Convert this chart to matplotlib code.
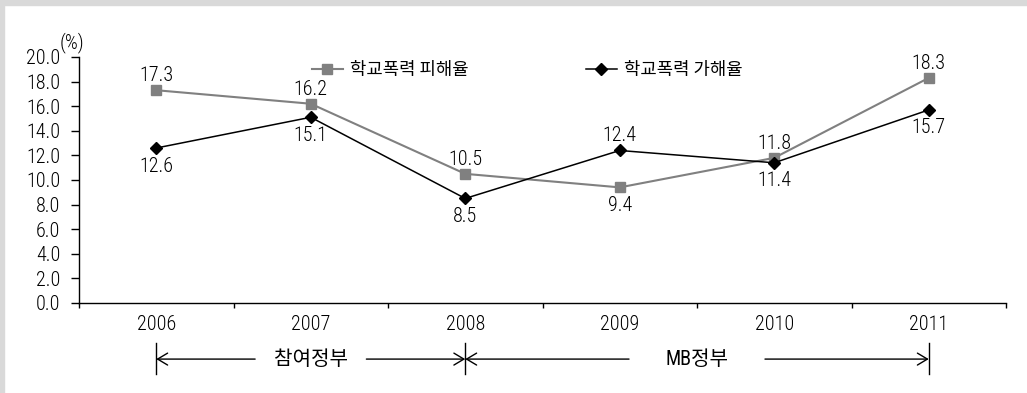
import matplotlib.pyplot as plt
import matplotlib.patches as mpatches
import matplotlib.transforms as mtransforms
from matplotlib import font_manager

years = ['2006', '2007', '2008', '2009', '2010', '2011']
victim_rate = [17.3, 16.2, 10.5, 9.4, 11.8, 18.3]
offender_rate = [12.6, 15.1, 8.5, 12.4, 11.4, 15.7]

# which side of the marker each value label goes: +1 above, -1 below
victim_side = [1, 1, 1, -1, 1, 1]
offender_side = [-1, -1, -1, 1, -1, -1]

periods = ['참여정부', 'MB정부']
period_start = [0, 2]
period_end = [2, 5]
period_gap = [0.36, 0.44]

installed = {f.name for f in font_manager.fontManager.ttflist}
narrow = next((n for n in ['Liberation Sans Narrow', 'Roboto Condensed', 'Liberation Sans']
               if n in installed), 'DejaVu Sans')
num_font = [narrow, 'Noto Sans CJK KR', 'DejaVu Sans']
kor_font = ['Noto Sans CJK KR', 'DejaVu Sans']
plt.rcParams['font.family'] = num_font
plt.rcParams['font.weight'] = 'light'
sz = 14.5 if 'Narrow' in narrow or 'Condensed' in narrow else 12

fig = plt.figure(figsize=(10.27, 3.93), dpi=100)
fig.patches.append(mpatches.Rectangle((0, 1 - 5 / 393), 1, 5 / 393, transform=fig.transFigure,
                                      color='#d9d9d9', zorder=0))
fig.patches.append(mpatches.Rectangle((0, 0), 4 / 1027, 1, transform=fig.transFigure,
                                      color='#d9d9d9', zorder=0))

ax = fig.add_axes([79 / 1027, 1 - 303 / 393, 927 / 1027, 246 / 393])
x = list(range(len(years)))

ax.plot(x, victim_rate, color='#808080', lw=1.5, marker='s', ms=6.5,
        label='학교폭력 피해율', zorder=3)
ax.plot(x, offender_rate, color='black', lw=1.1, marker='D', ms=6.5,
        label='학교폭력 가해율', zorder=4)

for xi, v, s in zip(x, victim_rate, victim_side):
    ax.annotate(f'{v:.1f}', (xi, v), xytext=(0, 10.5 if s > 0 else -13),
                textcoords='offset points', ha='center', va='center', fontsize=sz)
for xi, v, s in zip(x, offender_rate, offender_side):
    ax.annotate(f'{v:.1f}', (xi, v), xytext=(0, 10.5 if s > 0 else -13),
                textcoords='offset points', ha='center', va='center', fontsize=sz)

ax.set_xlim(-0.5, len(years) - 0.5)
ax.set_ylim(0, 20)
ax.set_yticks([i * 2 for i in range(11)])
ax.set_yticklabels([f'{i * 2:.1f}' for i in range(11)])
ax.set_xticks(x)
ax.set_xticklabels(years)
ax.set_xticks([i - 0.5 for i in range(len(years) + 1)], minor=True)
ax.tick_params(axis='x', which='major', length=0, pad=9, labelsize=sz)
ax.tick_params(axis='x', which='minor', length=3.5, width=1.0, direction='out')
ax.tick_params(axis='y', length=5.5, width=1.0, direction='out', pad=8, labelsize=sz)
for side in ['top', 'right']:
    ax.spines[side].set_visible(False)
for side in ['left', 'bottom']:
    ax.spines[side].set_linewidth(1.0)

ax.text(-0.0076, 1.06, '(%)', transform=ax.transAxes, ha='center', va='center',
        fontsize=sz)

leg = ax.legend(loc='center left', bbox_to_anchor=(0.251, 0.947), ncol=2, frameon=False,
                borderpad=0, borderaxespad=0, handlelength=1.75, handletextpad=0.4,
                columnspacing=6.6, prop={'family': kor_font, 'size': 12.8})

# government periods below the axis
trans = mtransforms.blended_transform_factory(ax.transData, ax.transAxes)
y_arrow = -0.228
arrow = dict(arrowstyle='->, head_length=0.72, head_width=0.43', lw=1.0, color='black',
             shrinkA=0, shrinkB=0, mutation_scale=10)
for name, a, b, g in zip(periods, period_start, period_end, period_gap):
    mid = (a + b) / 2
    ax.annotate('', xy=(a, y_arrow), xytext=(mid - g, y_arrow), xycoords=trans,
                textcoords=trans, arrowprops=arrow, annotation_clip=False)
    ax.annotate('', xy=(b, y_arrow), xytext=(mid + g, y_arrow), xycoords=trans,
                textcoords=trans, arrowprops=arrow, annotation_clip=False)
    ax.text(mid, y_arrow, name, transform=trans, ha='center', va='center',
            fontsize=sz, family=num_font, weight='normal')
for xb in sorted(set(period_start + period_end)):
    ax.plot([xb, xb], [-0.163, -0.289], transform=trans, color='black', lw=1.0, clip_on=False)

fig.savefig('out.png', dpi=100)
